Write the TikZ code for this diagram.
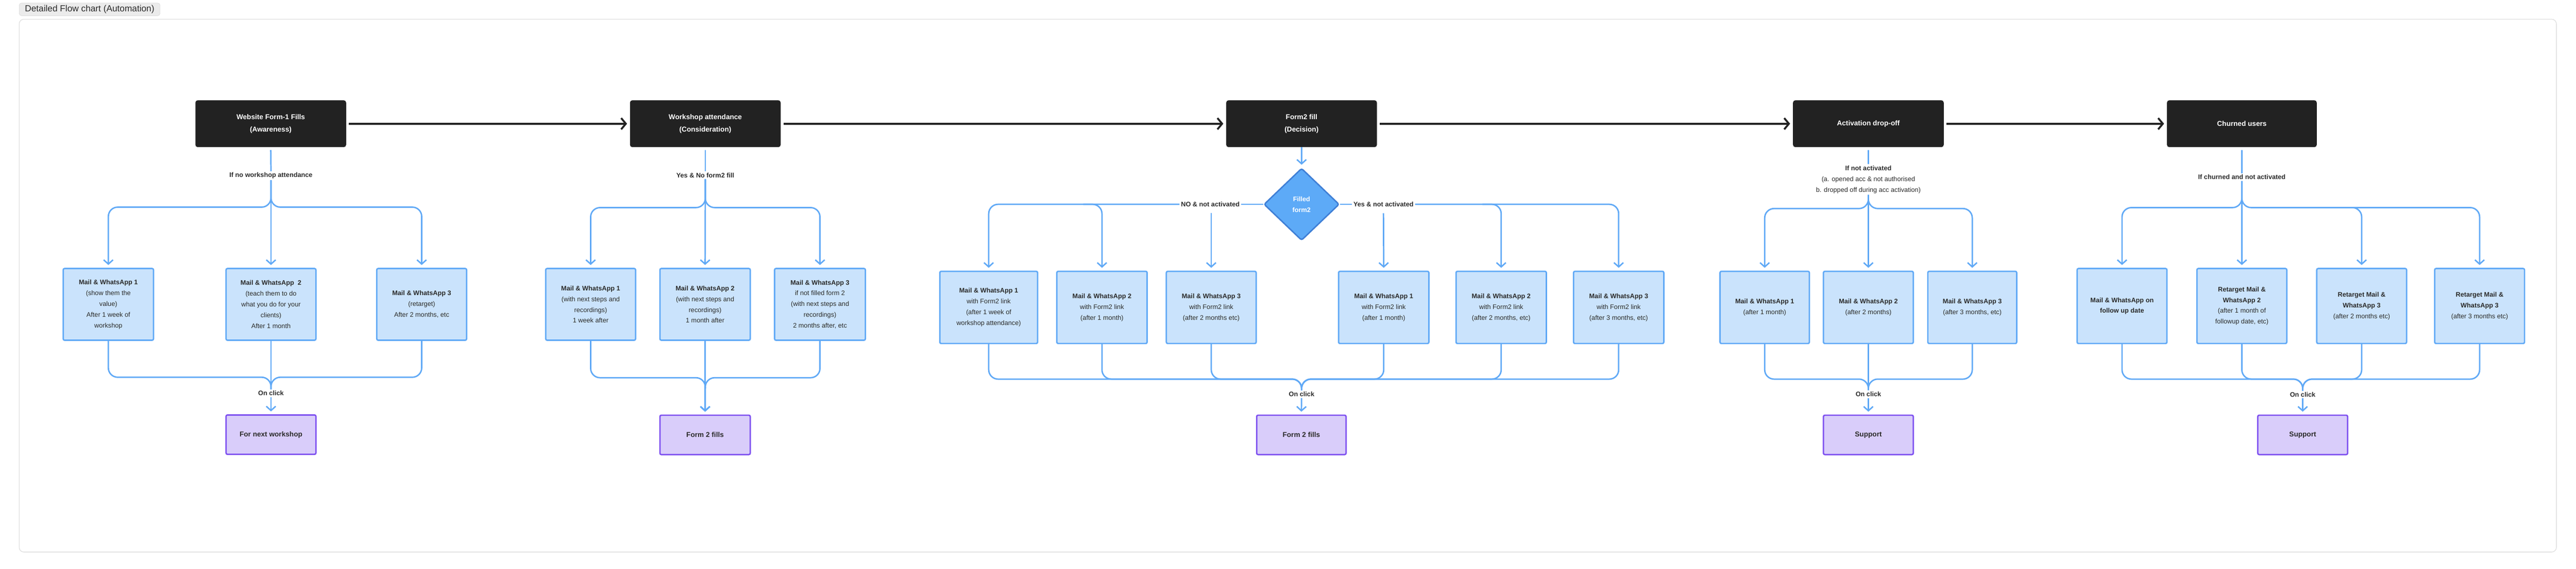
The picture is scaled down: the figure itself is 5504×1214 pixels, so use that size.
\documentclass[tikz,border=0pt]{standalone}
\usepackage{fontspec}
\setmainfont{Liberation Sans}
\usetikzlibrary{arrows.meta,calc,shapes.geometric}
\definecolor{bl}{HTML}{60A9F6}
\definecolor{bfill}{HTML}{CAE3FC}
\definecolor{pborder}{HTML}{7F52F0}
\definecolor{pfill}{HTML}{D9CDFA}
\definecolor{dark}{HTML}{222222}
\definecolor{dfill}{HTML}{5DAAF7}
\definecolor{dborder}{HTML}{3F7FD6}
\definecolor{txt}{HTML}{2A2A2A}
\tikzset{
  mbox/.style={draw=bl,fill=bfill,line width=3pt,rounded corners=3pt,align=center,text=txt,font=\fontsize{14}{23}\selectfont,inner sep=4pt,minimum height=153pt},
  pbox/.style={draw=pborder,fill=pfill,line width=3pt,rounded corners=3pt,align=center,text=txt,font=\fontsize{15}{23}\selectfont\bfseries,minimum width=192pt,minimum height=84pt},
  kbox/.style={fill=dark,rounded corners=5pt,align=center,text=white,font=\fontsize{15}{26}\selectfont\bfseries,minimum width=322pt,minimum height=100pt},
  lab/.style={text=txt,font=\fontsize{14}{23}\selectfont\bfseries,align=center,inner sep=3pt},
  bline/.style={draw=bl,line width=3pt,rounded corners=20pt},
  barr/.style={bline,-{Straight Barb[length=9pt,width=20pt,line width=3pt]},shorten >=6pt},
  karr/.style={draw=dark,line width=4pt,-{Straight Barb[length=10pt,width=24pt,line width=4pt]},shorten >=6pt,shorten <=6pt}
}
\begin{document}
\begin{tikzpicture}[x=1pt,y=-1pt]
\useasboundingbox (0,0) rectangle (5504,1214);
\fill[white] (0,0) rectangle (5504,1214);
% frame and tab
\draw[draw=black!12,line width=1.5pt,rounded corners=10pt] (41,41) rectangle (5462,1178);
\node[draw=black!20,fill=black!8,rounded corners=5pt,minimum width=301pt,minimum height=27pt,font=\fontsize{19}{20}\selectfont,text=txt] (tab) at (191.5,20) {Detailed Flow chart (Automation)};

% black stage boxes
\node[kbox] (k1) at (578.5,264) {Website Form-1 Fills\\(Awareness)};
\node[kbox] (k2) at (1507,264) {Workshop attendance\\(Consideration)};
\node[kbox] (k3) at (2781,264) {Form2 fill\\(Decision)};
\node[kbox] (k4) at (3992,264) {Activation drop-off};
\node[kbox,minimum width=320pt] (k5) at (4790,264) {Churned users};
\draw[karr] (k1) -- (k2);
\draw[karr] (k2) -- (k3);
\draw[karr] (k3) -- (k4);
\draw[karr] (k4) -- (k5);

% ---------- section 1
\node[lab] (l1) at (579,375) {If no workshop attendance};
\node[mbox,minimum width=193pt] (b11) at (231.5,649.5) {\textbf{Mail \& WhatsApp 1}\\(show them the\\value)\\After 1 week of\\workshop};
\node[mbox,minimum width=192pt] (b12) at (579,649.5) {\textbf{Mail \& WhatsApp\ \ 2}\\(teach them to do\\what you do for your\\clients)\\After 1 month};
\node[mbox,minimum width=192pt] (b13) at (901,649.5) {\textbf{Mail \& WhatsApp 3}\\(retarget)\\After 2 months, etc};
\node[lab] (oc1) at (579,839) {On click};
\node[pbox] (p1) at (579,927.5) {For next workshop};
\coordinate (s1) at (579,442);
\coordinate (m1) at (579,805);
\draw[bline,shorten <=6pt] (k1.south) -- (l1.north);
\draw[barr] (l1.south) -- (s1) -| (b11.north);
\draw[barr] (l1.south) -- (s1) -| (b13.north);
\draw[barr] (l1.south) -- (b12.north);
\draw[bline] (b11.south) |- (m1) -- (oc1.north);
\draw[bline] (b13.south) |- (m1) -- (oc1.north);
\draw[bline] (b12.south) -- (oc1.north);
\draw[barr] (oc1.south) -- (p1.north);

% ---------- section 2
\node[lab] (l2) at (1507,374) {Yes \& No form2 fill};
\node[mbox,minimum width=192pt] (b21) at (1262,649.5) {\textbf{Mail \& WhatsApp 1}\\(with next steps and\\recordings)\\1 week after};
\node[mbox,minimum width=193pt] (b22) at (1506.5,649.5) {\textbf{Mail \& WhatsApp 2}\\(with next steps and\\recordings)\\1 month after};
\node[mbox,minimum width=194pt] (b23) at (1752,649.5) {\textbf{Mail \& WhatsApp 3}\\if not filled form 2\\(with next steps and\\recordings)\\2 months after, etc};
\node[pbox,minimum width=193pt] (p2) at (1506.5,928) {Form 2 fills};
\coordinate (s2) at (1507,443);
\coordinate (m2) at (1507,806);
\draw[bline,shorten <=6pt] (k2.south) -- (l2.north);
\draw[barr] (l2.south) -- (s2) -| (b21.north);
\draw[barr] (l2.south) -- (s2) -| (b23.north);
\draw[barr] (l2.south) -- (b22.north);
\draw[barr] (b21.south) |- (m2) -- (p2.north);
\draw[barr] (b23.south) |- (m2) -- (p2.north);
\draw[barr] (b22.south) -- (p2.north);

% ---------- section 3
\node[diamond,draw=dborder,fill=dfill,line width=3pt,rounded corners=4pt,minimum width=161pt,minimum height=154pt,inner sep=0pt,align=center,text=white,font=\fontsize{14}{23}\selectfont\bfseries] (d) at (2781,436) {Filled\\form2};
\draw[barr] (k3.south) -- (d.north);
\node[lab,fill=white] (no) at (2586,436) {NO \& not activated};
\node[lab,fill=white] (yes) at (2956,436) {Yes \& not activated};
\tikzset{mb3/.style={mbox,minimum height=154pt,minimum width=193pt}}
\node[mb3,minimum width=209pt] (b31) at (2112.5,656) {\textbf{Mail \& WhatsApp 1}\\with Form2 link\\(after 1 week of\\workshop attendance)};
\node[mb3] (b32) at (2354.5,656) {\textbf{Mail \& WhatsApp 2}\\with Form2 link\\(after 1 month)};
\node[mb3,minimum width=192pt] (b33) at (2588,656) {\textbf{Mail \& WhatsApp 3}\\with Form2 link\\(after 2 months etc)};
\node[mb3] (b34) at (2956.5,656) {\textbf{Mail \& WhatsApp 1}\\with Form2 link\\(after 1 month)};
\node[mb3] (b35) at (3207.5,656) {\textbf{Mail \& WhatsApp 2}\\with Form2 link\\(after 2 months, etc)};
\node[mb3] (b36) at (3458.5,656) {\textbf{Mail \& WhatsApp 3}\\with Form2 link\\(after 3 months, etc)};
\node[lab] (oc3) at (2781,841) {On click};
\node[pbox,minimum width=191pt] (p3) at (2780.5,928) {Form 2 fills};
\coordinate (t33) at (2588,455);
\coordinate (t34) at (2956,455);
\coordinate (m3) at (2781,809);
\draw[bline] (d.west) -- (no.east);
\draw[bline] (d.east) -- (yes.west);
\draw[barr] (no.west) -| (b31.north);
\draw[barr] ($(b32.north |- d.center)+(-40,0)$) -| (b32.north);
\draw[barr] (t33) -- (b33.north);
\draw[barr] (t34) -- (b34.north);
\draw[barr] (yes.east) -| (b36.north);
\draw[barr] ($(b35.north |- d.center)+(-40,0)$) -| (b35.north);
\foreach \b in {b31,b32,b33,b34,b35,b36}{\draw[bline] (\b.south) |- (m3) -- (oc3.north);}
\draw[barr] (oc3.south) -- (p3.north);

% ---------- section 4
\node[lab] (l4) at (3992,383) {If not activated\\{\mdseries (a. opened acc \& not authorised}\\{\mdseries b. dropped off during acc activation)}};
\tikzset{mb4/.style={mbox,minimum height=154pt,minimum width=191pt}}
\node[mb4] (b41) at (3770.5,656) {\textbf{Mail \& WhatsApp 1}\\(after 1 month)};
\node[mb4,minimum width=192pt] (b42) at (3992,656) {\textbf{Mail \& WhatsApp 2}\\(after 2 months)};
\node[mb4,minimum width=190pt] (b43) at (4214,656) {\textbf{Mail \& WhatsApp 3}\\(after 3 months, etc)};
\node[lab] (oc4) at (3992,841) {On click};
\node[pbox] (p4) at (3992,928) {Support};
\coordinate (s4) at (3992,445);
\coordinate (m4) at (3992,809);
\draw[bline,shorten <=6pt] (k4.south) -- (l4.north);
\draw[barr] (l4.south) -- (s4) -| (b41.north);
\draw[barr] (l4.south) -- (s4) -| (b43.north);
\draw[barr] (l4.south) -- (b42.north);
\draw[bline] (b41.south) |- (m4) -- (oc4.north);
\draw[bline] (b43.south) |- (m4) -- (oc4.north);
\draw[bline] (b42.south) -- (oc4.north);
\draw[barr] (oc4.south) -- (p4.north);

% ---------- section 5
\node[lab] (l5) at (4790,378) {If churned and not activated};
\tikzset{mb5/.style={mbox,minimum height=160pt,minimum width=192pt}}
\node[mb5] (b51) at (4534,653) {\textbf{Mail \& WhatsApp on}\\\textbf{follow up date}};
\node[mb5] (b52) at (4790,653) {\textbf{Retarget Mail \&}\\\textbf{WhatsApp 2}\\(after 1 month of\\followup date, etc)};
\node[mb5] (b53) at (5046,653) {\textbf{Retarget Mail \&}\\\textbf{WhatsApp 3}\\(after 2 months etc)};
\node[mb5] (b54) at (5298,653) {\textbf{Retarget Mail \&}\\\textbf{WhatsApp 3}\\(after 3 months etc)};
\node[lab] (oc5) at (4920,842) {On click};
\node[pbox] (p5) at (4920,928) {Support};
\coordinate (s5) at (4790,443);
\coordinate (m5) at (4920,809);
\draw[bline,shorten <=6pt] (k5.south) -- (l5.north);
\draw[barr] (l5.south) -- (s5) -| (b51.north);
\draw[barr] (l5.south) -- (s5) -| (b54.north);
\draw[barr] (l5.south) -- (b52.north);
\draw[barr] ($(b53.north |- s5)+(-40,0)$) -| (b53.north);
\foreach \b in {b51,b52,b53,b54}{\draw[bline] (\b.south) |- (m5) -- (oc5.north);}
\draw[barr] (oc5.south) -- (p5.north);
\end{tikzpicture}
\end{document}
